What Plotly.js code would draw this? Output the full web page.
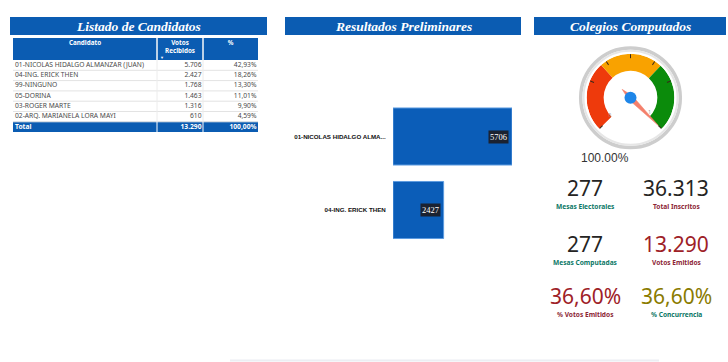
<!DOCTYPE html>
<html><head><meta charset="utf-8">
<script src="https://cdn.plot.ly/plotly-3.0.1.min.js"></script>
<style>html,body{margin:0;padding:0;background:#fff;}#chart{width:728px;height:362px;}</style>
</head><body><div id="chart"></div>
<script>
// ---------- data ----------
const panelTitles = ["Listado de Candidatos", "Resultados Preliminares", "Colegios Computados"];

const tableHeader = ["Candidato", "Votos<br>Recibidos", "%"];
const candidates = ["01-NICOLAS HIDALGO ALMANZAR (JUAN)", "04-ING. ERICK THEN", "99-NINGUNO", "05-DORINA", "03-ROGER MARTE", "02-ARQ. MARIANELA LORA MAYI"];
const votesText = ["5.706", "2.427", "1.768", "1.463", "1.316", "610"];
const pctText = ["42,93%", "18,26%", "13,30%", "11,01%", "9,90%", "4,59%"];
const totalRow = ["Total", "13.290", "100,00%"];

const barLabels = ["01-NICOLAS HIDALGO ALMA...", "04-ING. ERICK THEN"];
const barValues = [5706, 2427];

const gaugeValue = 1.0;          // 100.00%
const gaugeText = "100.00%";
const gaugeBandEdges = [0, 0.345, 0.66, 1];
const gaugeBandColors = ["#ee3a0c", "#f9a200", "#0b8b0b"];
const gaugeTicks = [0, 0.25, 0.375, 0.5, 0.625, 0.75, 1];
const gaugeEndLabels = ["0", "1"];

const kpiValues = ["277", "36.313", "277", "13.290", "36,60%", "36,60%"];
const kpiLabels = ["Mesas Electorales", "Total Inscritos", "Mesas Computadas", "Votos Emitidos", "% Votos Emitidos", "% Concurrencia"];
const kpiValueColors = ["#252423", "#252423", "#252423", "#9e2127", "#9e2127", "#8a7b00"];
const kpiLabelColors = ["#0b7766", "#8c2535", "#0b7766", "#8c2535", "#8c2535", "#0b7766"];

// ---------- helpers ----------
const W = 728, H = 362;
const px = x => x / W;
const py = y => 1 - y / H;
const BLUE = "#0b5cb2";

const traces = [];
const shapes = [];
const annotations = [];

// ---------- panel title bars ----------
const titleBoxes = [[10, 267], [285, 521], [534, 726]];
titleBoxes.forEach((b, i) => {
  shapes.push({type: "rect", xref: "paper", yref: "paper", x0: px(b[0]), x1: px(b[1]), y0: py(35), y1: py(17),
    fillcolor: BLUE, line: {width: 0}, layer: "below"});
  annotations.push({xref: "paper", yref: "paper", x: px((b[0] + b[1]) / 2), y: py(26), text: "<b><i>" + panelTitles[i] + "</i></b>",
    showarrow: false, xanchor: "center", yanchor: "middle",
    font: {family: "Liberation Serif, Times New Roman, serif", size: 13.5, color: "#ffffff"}});
});

// ---------- table (own cartesian grid: x = column units, y = row index) ----------
const colWidths = [144, 46, 55];
const colEdges = [0];
colWidths.forEach(w => colEdges.push(colEdges[colEdges.length - 1] + w));
const tableW = colEdges[colEdges.length - 1];
const ROWPX = 10.3, HEADPX = 22;
const headUnits = HEADPX / ROWPX;
const nBody = candidates.length;          // rows 0..nBody-1, total row = nBody
const yTop = -0.5 - headUnits, yBot = nBody + 0.5;
const rowIdx = candidates.map((_, i) => i);
const fontTable = "Noto Sans, sans-serif";
const bodySize = 6.7;

shapes.push({type: "rect", xref: "x3", yref: "y3", x0: 0, x1: tableW, y0: yTop, y1: -0.5, fillcolor: BLUE, line: {width: 0}, layer: "below"});
shapes.push({type: "rect", xref: "x3", yref: "y3", x0: 0, x1: tableW, y0: nBody - 0.5, y1: nBody + 0.5, fillcolor: BLUE, line: {width: 0}, layer: "below"});
for (let i = 0; i < nBody; i++) {
  shapes.push({type: "line", xref: "x3", yref: "y3", x0: 0, x1: tableW, y0: i + 0.5, y1: i + 0.5, line: {color: "#e3e3e3", width: 1}, layer: "below"});
}
for (let c = 1; c < colWidths.length; c++) {
  shapes.push({type: "line", xref: "x3", yref: "y3", x0: colEdges[c], x1: colEdges[c], y0: yTop, y1: nBody - 0.5, line: {color: "#ececec", width: 1}, layer: "below"});
  shapes.push({type: "line", xref: "x3", yref: "y3", x0: colEdges[c], x1: colEdges[c], y0: yTop, y1: -0.5, line: {color: "#ffffff", width: 1}});
  shapes.push({type: "line", xref: "x3", yref: "y3", x0: colEdges[c], x1: colEdges[c], y0: nBody - 0.5, y1: nBody + 0.5, line: {color: "#ffffff", width: 1}});
}
const headY = yTop + 5.7 / ROWPX;
traces.push({type: "scatter", mode: "text", xaxis: "x3", yaxis: "y3",
  x: colWidths.map((w, c) => colEdges[c] + w / 2), y: [headY, headY + 0.4, headY],
  text: tableHeader.map(h => "<b>" + h + "</b>"), textposition: "middle center",
  textfont: {family: fontTable, size: 6.3, color: "#ffffff"}, hoverinfo: "skip", cliponaxis: false});
annotations.push({xref: "x3", yref: "y3", x: colEdges[1] + 4.5, y: -0.72, text: "▼", showarrow: false,
  font: {size: 4, color: "#ffffff"}});
traces.push({type: "scatter", mode: "text", xaxis: "x3", yaxis: "y3",
  x: candidates.map(() => colEdges[0] + 2), y: rowIdx, text: candidates, textposition: "middle right",
  textfont: {family: fontTable, size: bodySize, color: "#4a4a4a"}, hoverinfo: "skip", cliponaxis: false});
traces.push({type: "scatter", mode: "text", xaxis: "x3", yaxis: "y3",
  x: votesText.map(() => colEdges[2] - 1.5), y: rowIdx, text: votesText, textposition: "middle left",
  textfont: {family: fontTable, size: bodySize, color: "#4a4a4a"}, hoverinfo: "skip", cliponaxis: false});
traces.push({type: "scatter", mode: "text", xaxis: "x3", yaxis: "y3",
  x: pctText.map(() => colEdges[3] - 1.5), y: rowIdx, text: pctText, textposition: "middle left",
  textfont: {family: fontTable, size: bodySize, color: "#4a4a4a"}, hoverinfo: "skip", cliponaxis: false});
traces.push({type: "scatter", mode: "text", xaxis: "x3", yaxis: "y3",
  x: [colEdges[0] + 2, colEdges[2] - 1.5, colEdges[3] - 1.5], y: [nBody, nBody, nBody],
  text: totalRow.map(t => "<b>" + t + "</b>"), textposition: ["middle right", "middle left", "middle left"],
  textfont: {family: fontTable, size: bodySize, color: "#ffffff"}, hoverinfo: "skip", cliponaxis: false});

// ---------- bar chart ----------
traces.push({
  type: "bar", orientation: "h", x: barValues, y: barLabels,
  xaxis: "x", yaxis: "y",
  marker: {color: "#0b5db8", line: {color: "#5d9be0", width: 1}},
  hoverinfo: "skip"
});
barValues.forEach((v, i) => {
  annotations.push({xref: "x", yref: "y", x: v, y: barLabels[i], text: String(v), showarrow: false,
    xanchor: "right", yanchor: "middle", xshift: -3, bgcolor: "#1b2231", borderpad: 1,
    font: {family: "Liberation Serif, Times New Roman, serif", size: 8.5, color: "#ffffff"}});
});

// ---------- gauge ----------
const gcx = 630.5, gcy = 97.7, gR = 44;
const SPAN = 270;
const bandTheta = [], bandWidth = [];
for (let i = 0; i < gaugeBandColors.length; i++) {
  bandTheta.push((gaugeBandEdges[i] + gaugeBandEdges[i + 1]) / 2 * SPAN);
  bandWidth.push((gaugeBandEdges[i + 1] - gaugeBandEdges[i]) * SPAN);
}
shapes.push({type: "circle", xref: "paper", yref: "paper", x0: px(gcx - 49.8), x1: px(gcx + 49.8), y0: py(gcy + 49.8), y1: py(gcy - 49.8),
  line: {color: "#cdcdcd", width: 3.5}, fillcolor: "rgba(0,0,0,0)", layer: "below"});
shapes.push({type: "circle", xref: "paper", yref: "paper", x0: px(gcx - 47), x1: px(gcx + 47), y0: py(gcy + 47), y1: py(gcy - 47),
  line: {color: "#e6e6e6", width: 2}, fillcolor: "rgba(0,0,0,0)", layer: "below"});

traces.push({
  type: "barpolar", subplot: "polar",
  r: gaugeBandColors.map(() => 0.39), base: gaugeBandColors.map(() => 0.61),
  theta: bandTheta, width: bandWidth,
  marker: {color: gaugeBandColors, line: {width: 0}},
  hoverinfo: "skip"
});
const tv = gaugeValue * SPAN;
traces.push({
  type: "scatterpolar", subplot: "polar", mode: "lines", fill: "toself",
  r: [0.9, 0.06, 0.27, 0.06, 0.9], theta: [tv, tv + 90, tv + 180, tv - 90, tv],
  fillcolor: "#f4806c", line: {color: "#f4806c", width: 0.5}, hoverinfo: "skip"
});
traces.push({
  type: "scatterpolar", subplot: "polar", mode: "markers", r: [0], theta: [0],
  marker: {size: 12, color: "#1e86e8"}, hoverinfo: "skip"
});
traces.push({
  type: "scatterpolar", subplot: "polar", mode: "text", r: [0.62, 0.55], theta: [4, SPAN - 7],
  text: gaugeEndLabels, textfont: {size: 4.5, color: "#888"}, hoverinfo: "skip"
});
annotations.push({xref: "paper", yref: "paper", x: px(gcx), y: py(158), text: gaugeText, showarrow: false,
  font: {family: "Liberation Sans, Arial, sans-serif", size: 12, color: "#333333"}});

// ---------- KPI cards ----------
const kpiX = [585, 676];
const kpiY = [188, 244, 296];
kpiValues.forEach((v, i) => {
  const cx = kpiX[i % 2], cy = kpiY[Math.floor(i / 2)];
  annotations.push({xref: "paper", yref: "paper", x: px(cx), y: py(cy), text: v, showarrow: false,
    xanchor: "center", yanchor: "middle",
    font: {family: "Noto Sans, sans-serif", size: 21, color: kpiValueColors[i]}});
  annotations.push({xref: "paper", yref: "paper", x: px(cx), y: py(cy + 18.5), text: "<b>" + kpiLabels[i] + "</b>", showarrow: false,
    xanchor: "center", yanchor: "middle",
    font: {family: "Noto Sans, sans-serif", size: 6.6, color: kpiLabelColors[i]}});
});

shapes.push({type: "line", xref: "paper", yref: "paper", x0: px(230), x1: px(659), y0: py(360.5), y1: py(360.5),
  line: {color: "#eceef3", width: 2}});

const hiddenAxis = {visible: false, showgrid: false, zeroline: false, fixedrange: true};
const layout = {
  width: W, height: H, autosize: false,
  margin: {l: 0, r: 0, t: 0, b: 0, pad: 0},
  paper_bgcolor: "#ffffff", plot_bgcolor: "rgba(0,0,0,0)",
  showlegend: false,
  bargap: 0.224,
  xaxis: {domain: [px(393), px(512)], range: [0, Math.max(...barValues)], visible: false, fixedrange: true},
  yaxis: {domain: [py(246.75), py(99.75)], type: "category", autorange: "reversed", showgrid: false, zeroline: false,
    showline: false, ticks: "outside", ticklen: 5, tickcolor: "rgba(0,0,0,0)",
    tickfont: {family: "Liberation Sans, Arial, sans-serif", size: 6.2, color: "#111", weight: "bold"}},
  xaxis3: Object.assign({}, hiddenAxis, {domain: [px(13), px(258)], range: [0, tableW], anchor: "y3"}),
  yaxis3: Object.assign({}, hiddenAxis, {domain: [py(38 + HEADPX + (nBody + 1) * ROWPX), py(38)], range: [yBot, yTop], anchor: "x3"}),
  polar: {
    domain: {x: [px(gcx - gR), px(gcx + gR)], y: [py(gcy + gR), py(gcy - gR)]},
    bgcolor: "rgba(0,0,0,0)",
    radialaxis: {range: [0, 1], visible: false},
    angularaxis: {rotation: 225, direction: "clockwise", thetaunit: "degrees", showgrid: false, showline: false,
      showticklabels: false, ticks: "inside", ticklen: 4, tickwidth: 1, tickcolor: "#3a2a1a",
      tickmode: "array", tickvals: gaugeTicks.map(t => t * SPAN)}
  },
  shapes: shapes,
  annotations: annotations
};

Plotly.newPlot("chart", traces, layout, {displayModeBar: false, staticPlot: true});
</script>
</body></html>
